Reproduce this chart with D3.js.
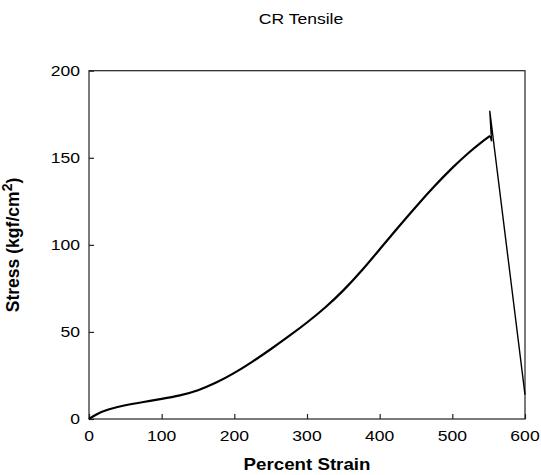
<!DOCTYPE html>
<html>
<head>
<meta charset="utf-8">
<script src="https://cdn.jsdelivr.net/npm/d3@7"></script>
<style>
  html, body { margin: 0; padding: 0; background: #fff; }
  svg { display: block; }
  text { font-family: "Liberation Sans", Arial, sans-serif; fill: #000; }
</style>
</head>
<body>
<svg id="chart" width="541" height="475"></svg>
<script>
// Tensile test of CR rubber: stress against percent strain
const strain = [0, 10, 25, 50, 75, 100, 125, 150, 175, 200, 225, 250, 275, 300, 325,
                350, 375, 400, 425, 450, 475, 500, 525, 540, 552];
const stress = [0, 2.8, 5.5, 8.0, 9.8, 11.5, 13.4, 16.3, 20.7, 26.3, 32.9, 40.0, 47.5, 55.3, 63.8,
                73.6, 84.9, 97.4, 109.9, 122.0, 133.6, 144.4, 153.9, 159.0, 162.6];

// Recorded points at and after rupture
const breakStrain = [552, 554, 551.5, 600];
const breakStress = [162.6, 159.5, 177, 14];

const xTicks = [0, 100, 200, 300, 400, 500, 600];
const yTicks = [0, 50, 100, 150, 200];

const titleText = "CR Tensile";
const xTitle = "Percent Strain";
const yTitle = "Stress (kgf/cm";
const yTitleSup = "2";

const svg = d3.select("#chart");
const x = d3.scaleLinear().domain([0, 600]).range([89, 525]);
const y = d3.scaleLinear().domain([0, 200]).range([419, 70.7]);
const sx = 1.17; // horizontal stretch of the lettering

// Frame
svg.append("rect")
  .attr("x", x(0)).attr("y", y(200))
  .attr("width", x(600) - x(0)).attr("height", y(0) - y(200))
  .attr("fill", "none").attr("stroke", "#222").attr("stroke-width", 1.2);

// Inward ticks
const xAxis = d3.axisBottom(x).tickValues(xTicks).tickSize(-5).tickFormat("");
const yAxis = d3.axisLeft(y).tickValues(yTicks).tickSize(-5).tickFormat("");
svg.append("g").attr("transform", `translate(0,${y(0)})`).call(xAxis)
  .call(g => g.select(".domain").remove())
  .selectAll("line").attr("stroke", "#222").attr("stroke-width", 1.2);
svg.append("g").attr("transform", `translate(${x(0)},0)`).call(yAxis)
  .call(g => g.select(".domain").remove())
  .selectAll("line").attr("stroke", "#222").attr("stroke-width", 1.2);

// Tick labels
svg.append("g").selectAll("text").data(xTicks).join("text")
  .attr("transform", d => `translate(${x(d)},441) scale(${sx},1)`)
  .attr("text-anchor", "middle").attr("font-size", 15)
  .text(d => d);
svg.append("g").selectAll("text").data(yTicks).join("text")
  .attr("transform", d => `translate(80,${y(d) + 5.3}) scale(${sx},1)`)
  .attr("text-anchor", "end").attr("font-size", 15)
  .text(d => d);

// Titles
svg.append("text")
  .attr("transform", `translate(301,24) scale(${sx},1)`)
  .attr("text-anchor", "middle").attr("font-size", 15)
  .text(titleText);
svg.append("text")
  .attr("transform", `translate(307,470) scale(${sx},1)`)
  .attr("text-anchor", "middle").attr("font-size", 16).attr("font-weight", "bold")
  .text(xTitle);
const yt = svg.append("text")
  .attr("transform", `translate(19,245) rotate(-90) scale(1.17,${sx})`)
  .attr("text-anchor", "middle").attr("font-size", 15).attr("font-weight", "bold");
yt.append("tspan").text(yTitle);
yt.append("tspan").attr("dy", -6).attr("font-size", 12).text(yTitleSup);
yt.append("tspan").attr("dy", 6).text(")");

// Stress-strain curve
const pts = strain.map((s, i) => [s, stress[i]]);
svg.append("path").datum(pts)
  .attr("fill", "none").attr("stroke", "#000").attr("stroke-width", 2.2)
  .attr("d", d3.line().x(d => x(d[0])).y(d => y(d[1])).curve(d3.curveBasis));

// Rupture
const brk = breakStrain.map((s, i) => [s, breakStress[i]]);
svg.append("path").datum(brk)
  .attr("fill", "none").attr("stroke", "#000").attr("stroke-width", 1.4)
  .attr("d", d3.line().x(d => x(d[0])).y(d => y(d[1])));
</script>
</body>
</html>
